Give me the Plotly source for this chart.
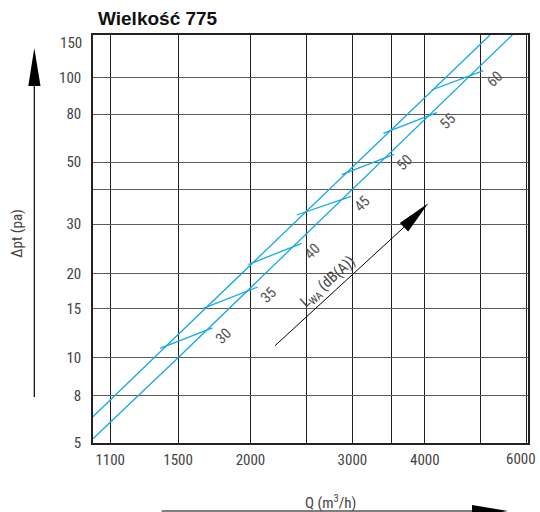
import math
import plotly.graph_objects as go

# ---------------- data ----------------
# axis ticks (values where the reference draws its grid lines) and their labels
x_tick_values = [1145, 1500, 2000, 3000, 4000, 6000]
x_tick_labels = ["1100", "1500", "2000", "3000", "4000", "6000"]
x_minor_grid = [2500, 3500, 5000]
y_tick_values = [4.96, 7.31, 10, 15, 20, 30, 50, 74.3, 100]
y_tick_labels = ["5", "8", "10", "15", "20", "30", "50", "80", "100"]
y_minor_grid = [40]
y_top_label = "150"

# characteristic lines: Q (m3/h) -> delta pt (Pa)
upper_q = [1069, 1363, 5184]
upper_dp = [6.15, 10.0, 142.5]
lower_q = [1069, 1500, 5665]
lower_dp = [5.13, 10.0, 142.5]

# sound power level connectors L_WA (dB(A))
lwa_levels = [30, 35, 40, 45, 50, 55, 60]
seg_q_start = [1396, 1658, 1983, 2404, 2875, 3392, 4111]
seg_dp_start = [10.80, 15.02, 21.54, 32.37, 45.17, 63.43, 90.58]
seg_q_end = [1720, 2057, 2452, 2983, 3539, 4195, 5049]
seg_dp_end = [12.77, 17.89, 25.64, 37.76, 53.36, 75.13, 106.2]

title_text = "Wielkość 775"
x_title = "Q (m<sup>3</sup>/h)"
y_title = "Δpt (pa)"
arrow_title = "L<sub>WA</sub> (dB(A))"

# ---------------- layout geometry ----------------
W, H = 540, 512
L, R, T, B = 93, 12, 35, 69
PW, PH = W - L - R, H - T - B

def px(x):
    return (x - L) / PW

def py(y):
    return (H - B - y) / PH

BLUE = "#14a9e4"
FONT = "Liberation Sans Narrow, Roboto Condensed, DejaVu Sans Condensed, Liberation Sans, sans-serif"
TXT = "#444444"

fig = go.Figure()

seg_x, seg_y = [], []
for a, b, c, d in zip(seg_q_start, seg_dp_start, seg_q_end, seg_dp_end):
    seg_x += [a, c, None]
    seg_y += [b, d, None]

fig.add_trace(go.Scatter(x=seg_x, y=seg_y, mode="lines",
                         line=dict(color=BLUE, width=1.3), hoverinfo="skip", showlegend=False))
fig.add_trace(go.Scatter(x=upper_q, y=upper_dp, mode="lines",
                         line=dict(color=BLUE, width=1.3), showlegend=False))
fig.add_trace(go.Scatter(x=lower_q, y=lower_dp, mode="lines",
                         line=dict(color=BLUE, width=1.3), showlegend=False))

# ---------------- white knock-outs in the grid (between grid and traces) ----------------
gaps_v = [  # x, y0, y1 (pixels)
    (178.7, 326, 356), (306.7, 233, 331), (352.3, 152, 161.8), (352.3, 165, 170),
    (352.3, 190, 221.6), (352.3, 225, 287), (390.3, 220, 255), (424.3, 195, 232),
    (481, 72, 76.3), (481, 79.2, 107),
]
gaps_h = [  # y, x0, x1 (pixels)
    (77.7, 483, 512), (114, 437, 473), (163.3, 380, 388.6), (163.3, 392, 423),
    (189.3, 315, 328), (223.3, 282, 295), (223.3, 383, 433), (272.7, 235, 243),
    (272.7, 298, 367), (309.3, 195, 203), (309.3, 228, 248.6), (309.3, 252, 330),
]
shapes = []
for x, y0, y1 in gaps_v:
    shapes.append(dict(type="rect", xref="paper", yref="paper", layer="between",
                       x0=px(x - 2), x1=px(x + 2), y0=py(y1), y1=py(y0),
                       fillcolor="white", line=dict(width=0)))
for y, x0, x1 in gaps_h:
    shapes.append(dict(type="rect", xref="paper", yref="paper", layer="between",
                       x0=px(x0), x1=px(x1), y0=py(y + 2), y1=py(y - 2),
                       fillcolor="white", line=dict(width=0)))

# arrows (decorations)
shapes.append(dict(type="line", xref="paper", yref="paper", x0=px(34.3), x1=px(34.3),
                   y0=py(397), y1=py(84), line=dict(color="black", width=1.2)))
shapes.append(dict(type="path", xref="paper", yref="paper",
                   path=f"M {px(34.3)} {py(48)} L {px(28.3)} {py(86)} L {px(40.5)} {py(86)} Z",
                   fillcolor="black", line=dict(width=0)))
shapes.append(dict(type="line", xref="paper", yref="paper", x0=px(161.7), x1=px(474),
                   y0=py(511), y1=py(511), line=dict(color="black", width=1.2)))
shapes.append(dict(type="path", xref="paper", yref="paper",
                   path=f"M {px(508)} {py(511)} L {px(472)} {py(505)} L {px(472)} {py(517)} Z",
                   fillcolor="black", line=dict(width=0)))
shapes.append(dict(type="line", xref="paper", yref="paper", x0=px(275), x1=px(405),
                   y0=py(345.7), y1=py(226.3), line=dict(color="black", width=1)))
shapes.append(dict(type="path", xref="paper", yref="paper",
                   path=f"M {px(428.3)} {py(203.3)} L {px(399.8)} {py(223)} L {px(408.2)} {py(231.6)} Z",
                   fillcolor="black", line=dict(width=0)))

annotations = []
for lv, q, dp in zip(lwa_levels, seg_q_end, seg_dp_end):
    annotations.append(dict(x=math.log10(q), y=math.log10(dp), xref="x", yref="y",
                            text=str(lv), showarrow=False, textangle=-45,
                            xshift=11, yshift=-8,
                            font=dict(family=FONT, size=15, color="#555555")))
# last x tick label is pulled inside the picture, as in the reference
annotations.append(dict(x=math.log10(x_tick_values[-1]), y=py(458.5), xref="x", yref="paper",
                        xanchor="right", yanchor="middle", xshift=11,
                        text=x_tick_labels[-1], showarrow=False,
                        font=dict(family=FONT, size=15, color=TXT)))
annotations += [
    dict(x=px(96), y=py(18.5), xref="paper", yref="paper", xanchor="left", yanchor="middle",
         text=f"<b>{title_text}</b>", showarrow=False,
         font=dict(family="Liberation Sans, Arial, sans-serif", size=19, color="#111111")),
    dict(x=px(84), y=py(43), xref="paper", yref="paper", xanchor="right", yanchor="middle",
         text=y_top_label, showarrow=False, font=dict(family=FONT, size=15, color=TXT)),
    dict(x=px(16.7), y=py(233), xref="paper", yref="paper", xanchor="center", yanchor="middle",
         text=y_title, showarrow=False, textangle=-90, font=dict(family=FONT, size=15, color=TXT)),
    dict(x=px(330), y=py(501.5), xref="paper", yref="paper", xanchor="center", yanchor="middle",
         text=x_title, showarrow=False, font=dict(family=FONT, size=15, color=TXT)),
    dict(x=px(328.3), y=py(281.7), xref="paper", yref="paper", xanchor="center", yanchor="middle",
         text=arrow_title, showarrow=False, textangle=-42, font=dict(family=FONT, size=15, color=TXT)),
]

fig.update_layout(
    width=W, height=H, margin=dict(l=L, r=R, t=T, b=B, pad=0, autoexpand=False),
    paper_bgcolor="white", plot_bgcolor="white",
    showlegend=False, shapes=shapes, annotations=annotations,
    font=dict(family=FONT, size=15, color=TXT),
)
fig.update_xaxes(type="log", range=[3.02913, 3.78029], tickmode="array",
                 tickvals=x_tick_values[:-1], ticktext=x_tick_labels[:-1],
                 minor=dict(tickmode="array", tickvals=x_minor_grid + x_tick_values[-1:],
                            showgrid=True, gridcolor="#1e1e1e", gridwidth=1.2, ticks=""),
                 showgrid=True, gridcolor="#1e1e1e", gridwidth=1.2,
                 showline=True, mirror=True, linecolor="#222222", linewidth=1.5,
                 ticks="", ticklabelstandoff=2, zeroline=False, automargin=False,
                 tickfont=dict(family=FONT, size=15, color=TXT))
fig.update_yaxes(type="log", range=[0.69498, 2.15369], tickmode="array",
                 tickvals=y_tick_values, ticktext=y_tick_labels,
                 minor=dict(tickmode="array", tickvals=y_minor_grid, showgrid=True,
                            gridcolor="#5c5c5c", gridwidth=1.2, ticks=""),
                 showgrid=True, gridcolor="#5c5c5c", gridwidth=1.2,
                 showline=True, mirror=True, linecolor="#222222", linewidth=1.5,
                 ticks="", ticklabelstandoff=7, zeroline=False, automargin=False,
                 tickfont=dict(family=FONT, size=15, color=TXT))

fig.write_html("out.html", config={"displayModeBar": False},
               post_script="document.body.style.margin='0';document.body.style.padding='0';")
